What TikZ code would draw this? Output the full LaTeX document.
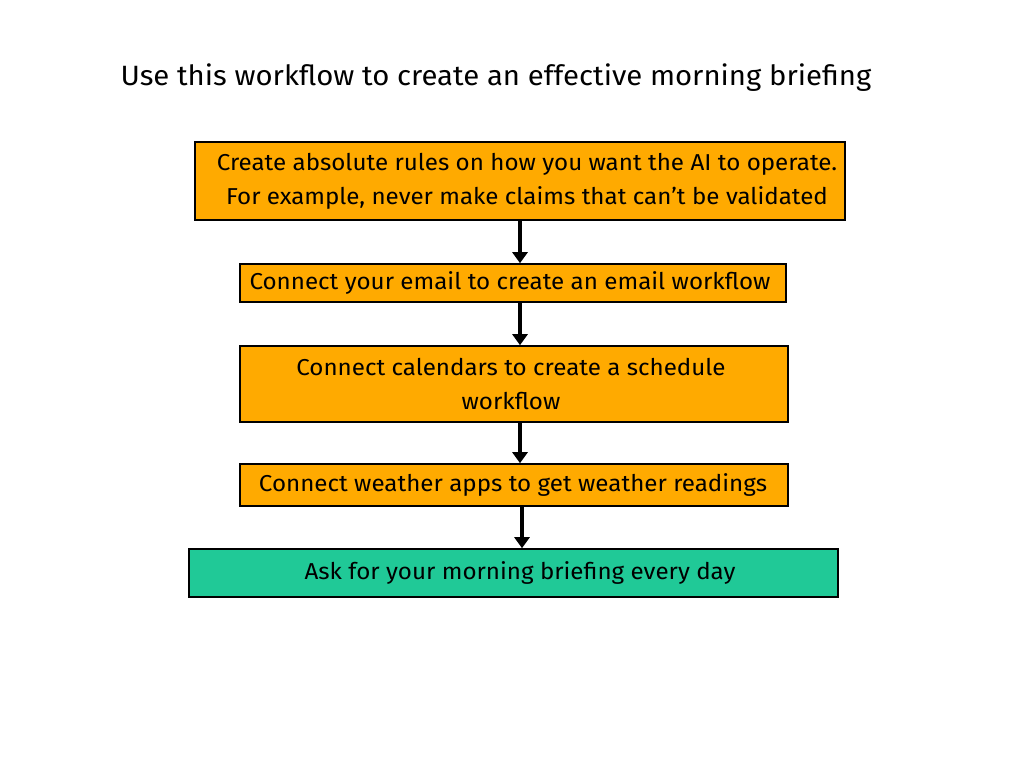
\documentclass[tikz,border=0pt]{standalone}
\usepackage{fontspec}
\setmainfont{Fira Sans}[FakeStretch=1.05]
\usetikzlibrary{arrows.meta}

\begin{document}
\begin{tikzpicture}[x=1pt, y=-1pt,
    every node/.style={font=\fontsize{23}{34.5}\selectfont},
    stepbox/.style={draw=black, line width=1.6pt, fill=amber, align=center, inner sep=0pt},
    endbox/.style={draw=black, line width=1.6pt, fill=tealgreen, align=center, inner sep=0pt},
    arr/.style={line width=3.6pt, -{Triangle[length=11pt, width=15pt]}}]
    \definecolor{amber}{RGB}{255,170,0}
    \definecolor{tealgreen}{RGB}{32,201,151}
    % Canvas
    \useasboundingbox[fill=white] (0,0) rectangle (1024,768);
    % Title
    \node[anchor=west, font=\fontsize{27.9}{30}\selectfont] (title) at (117,78) {Use this workflow to create an effective morning briefing};
    % Boxes
    \node[stepbox, minimum width=650, minimum height=78, text depth=4pt] (rules) at (520,181)
        {\hspace*{14pt}Create absolute rules on how you want the AI to operate.\\\hspace*{14pt}For example, never make claims that can’t be validated};
    \node[stepbox, minimum width=546, minimum height=38] (email) at (513,283)
        {\hspace*{-6pt}Connect your email to create an email workflow};
    \node[stepbox, minimum width=548, minimum height=76] (calendar) at (514,384)
        {\hspace*{-6pt}Connect calendars to create a schedule\\\hspace*{-6pt}workflow};
    \node[stepbox, minimum width=548, minimum height=42] (weather) at (514,485)
        {\hspace*{-2pt}Connect weather apps to get weather readings};
    \node[endbox, minimum width=649, minimum height=48] (briefing) at (513.5,573)
        {\hspace*{13pt}Ask for your morning briefing every day};
    % Arrows
    \draw[arr] (rules.south -| 520,0) -- (email.north -| 520,0);
    \draw[arr] (email.south -| 520,0) -- (calendar.north -| 520,0);
    \draw[arr] (calendar.south -| 520,0) -- (weather.north -| 520,0);
    \draw[arr] (weather.south -| 522,0) -- (briefing.north -| 522,0);
\end{tikzpicture}
\end{document}
